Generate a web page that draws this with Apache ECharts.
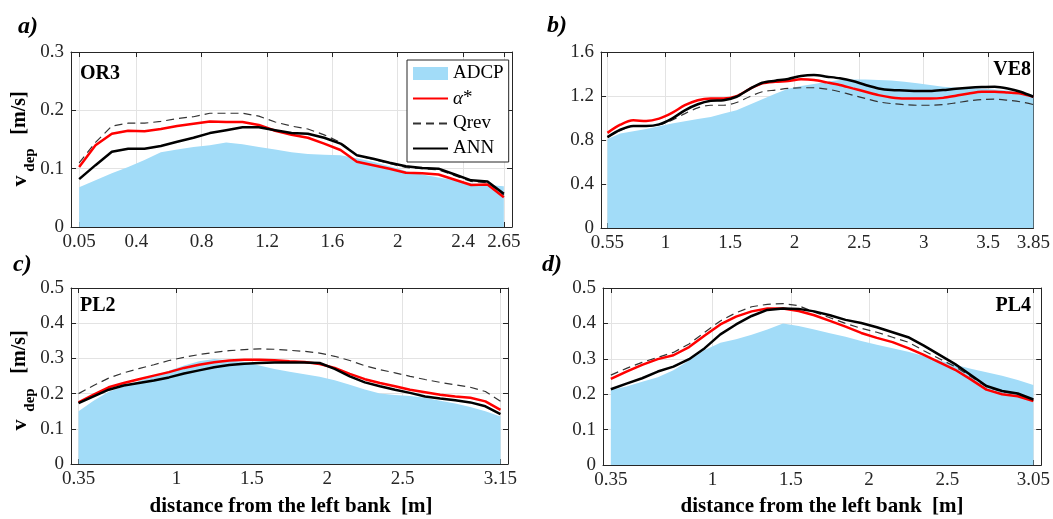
<!DOCTYPE html>
<html lang="en">
<head>
<meta charset="UTF-8">
<title>v_dep profiles</title>
<style>
  *{margin:0;padding:0;}
  body{background:#fff;}
  #view{width:1053px;height:519px;}
</style>
</head>
<body>
<div id="view"></div>
<script src="https://cdn.jsdelivr.net/npm/echarts@6/dist/echarts.min.js"></script>
<script>
// a) OR3
const xOR3 = [0.05,0.15,0.25,0.35,0.45,0.55,0.65,0.75,0.85,0.95,1.05,1.15,1.25,1.35,1.45,1.55,1.65,1.75,1.85,1.95,2.05,2.15,2.25,2.35,2.45,2.55,2.65];
const adcpOR3 = [0.068,0.080,0.092,0.103,0.115,0.128,0.133,0.137,0.140,0.145,0.142,0.137,0.133,0.128,0.125,0.124,0.123,0.118,0.112,0.104,0.096,0.090,0.085,0.080,0.075,0.072,0.070];
const alphaOR3 = [0.103,0.140,0.160,0.165,0.164,0.168,0.173,0.177,0.181,0.180,0.180,0.175,0.165,0.158,0.153,0.143,0.132,0.112,0.106,0.100,0.093,0.092,0.090,0.081,0.072,0.073,0.051];
const qrevOR3 = [0.110,0.145,0.173,0.178,0.178,0.181,0.186,0.189,0.195,0.195,0.195,0.190,0.180,0.173,0.168,0.158,0.145,0.123,0.116,0.109,0.102,0.100,0.098,0.088,0.078,0.076,0.055];
const annOR3 = [0.082,0.106,0.129,0.134,0.134,0.139,0.146,0.153,0.161,0.166,0.171,0.171,0.166,0.161,0.160,0.153,0.143,0.123,0.117,0.110,0.104,0.101,0.100,0.090,0.080,0.078,0.057];

// b) VE8
const xVE8 = [0.55,0.65,0.75,0.85,0.95,1.05,1.15,1.25,1.35,1.45,1.55,1.65,1.75,1.85,1.95,2.05,2.15,2.25,2.35,2.45,2.55,2.65,2.75,2.85,2.95,3.05,3.15,3.25,3.35,3.45,3.55,3.65,3.75,3.85];
const adcpVE8 = [0.81,0.86,0.88,0.90,0.925,0.95,0.97,0.99,1.01,1.04,1.07,1.12,1.17,1.22,1.265,1.29,1.31,1.33,1.345,1.35,1.35,1.345,1.34,1.33,1.315,1.30,1.285,1.275,1.27,1.265,1.26,1.25,1.235,1.21];
const alphaVE8 = [0.865,0.939,0.979,0.972,0.994,1.046,1.116,1.162,1.177,1.177,1.199,1.263,1.315,1.330,1.336,1.352,1.346,1.324,1.300,1.269,1.239,1.208,1.187,1.177,1.177,1.177,1.183,1.202,1.223,1.239,1.239,1.232,1.223,1.193];
const qrevVE8 = [0.826,0.887,0.927,0.927,0.939,0.979,1.040,1.092,1.116,1.116,1.141,1.193,1.239,1.254,1.269,1.275,1.275,1.263,1.239,1.208,1.177,1.147,1.131,1.122,1.116,1.116,1.122,1.138,1.156,1.168,1.171,1.162,1.147,1.122];
const annVE8 = [0.826,0.893,0.927,0.927,0.942,0.994,1.070,1.125,1.156,1.162,1.193,1.263,1.321,1.339,1.355,1.382,1.391,1.376,1.361,1.336,1.300,1.269,1.254,1.251,1.245,1.245,1.254,1.266,1.275,1.281,1.284,1.269,1.239,1.193];

// c) PL2
const xPL2 = [0.35,0.45,0.55,0.65,0.75,0.85,0.95,1.05,1.15,1.25,1.35,1.45,1.55,1.65,1.75,1.85,1.95,2.05,2.15,2.25,2.35,2.45,2.55,2.65,2.75,2.85,2.95,3.05,3.15];
const adcpPL2 = [0.150,0.180,0.205,0.220,0.235,0.250,0.265,0.280,0.292,0.298,0.295,0.290,0.280,0.270,0.262,0.255,0.248,0.238,0.225,0.212,0.200,0.196,0.193,0.188,0.180,0.172,0.162,0.150,0.135];
const alphaPL2 = [0.175,0.197,0.218,0.230,0.241,0.251,0.261,0.273,0.282,0.289,0.294,0.296,0.296,0.295,0.292,0.290,0.284,0.273,0.256,0.241,0.230,0.221,0.211,0.204,0.197,0.192,0.188,0.178,0.154];
const qrevPL2 = [0.200,0.223,0.244,0.259,0.271,0.282,0.294,0.303,0.311,0.317,0.322,0.325,0.327,0.326,0.323,0.320,0.315,0.306,0.294,0.279,0.268,0.259,0.249,0.240,0.232,0.225,0.218,0.206,0.178];
const annPL2 = [0.173,0.192,0.211,0.223,0.230,0.237,0.246,0.257,0.266,0.275,0.281,0.285,0.287,0.288,0.288,0.288,0.287,0.270,0.249,0.232,0.221,0.211,0.202,0.192,0.186,0.181,0.175,0.164,0.142];

// d) PL4
const xPL4 = [0.35,0.45,0.55,0.65,0.75,0.85,0.95,1.05,1.15,1.25,1.35,1.45,1.55,1.65,1.75,1.85,1.95,2.05,2.15,2.25,2.35,2.45,2.55,2.65,2.75,2.85,2.95,3.05];
const adcpPL4 = [0.212,0.222,0.235,0.248,0.268,0.295,0.325,0.345,0.355,0.368,0.383,0.400,0.393,0.383,0.372,0.362,0.350,0.340,0.330,0.320,0.308,0.295,0.283,0.272,0.262,0.252,0.240,0.226];
const alphaPL4 = [0.243,0.264,0.283,0.299,0.310,0.333,0.366,0.397,0.419,0.434,0.442,0.442,0.435,0.423,0.407,0.391,0.373,0.359,0.347,0.330,0.311,0.290,0.269,0.242,0.213,0.200,0.194,0.181];
const qrevPL4 = [0.254,0.273,0.290,0.304,0.318,0.342,0.375,0.407,0.430,0.447,0.454,0.456,0.450,0.432,0.416,0.400,0.386,0.375,0.361,0.347,0.323,0.300,0.278,0.250,0.221,0.207,0.200,0.183];
const annPL4 = [0.214,0.230,0.245,0.264,0.278,0.299,0.330,0.369,0.397,0.421,0.438,0.442,0.441,0.434,0.423,0.410,0.401,0.389,0.375,0.361,0.337,0.311,0.285,0.254,0.223,0.209,0.202,0.185];

// tick labels
const ticksOR3 = [0.05,0.4,0.8,1.2,1.6,2,2.4,2.65];
const ticksVE8 = [0.55,1,1.5,2,2.5,3,3.5,3.85];
const ticksPL2 = [0.35,1,1.5,2,2.5,3.15];
const ticksPL4 = [0.35,1,1.5,2,2.5,3.05];

const FONT = 'Liberation Serif';
const INK = '#262626';
const BLUE = '#a2dcf8';

const panels = [
  {name:'OR3', x:xOR3, adcp:adcpOR3, alpha:alphaOR3, qrev:qrevOR3, ann:annOR3, ticks:ticksOR3,
   xmin:0, xmax:2.7, ymax:0.3, ystep:0.1, grid:{left:71, top:52, width:441, height:175}, smooth:false},
  {name:'VE8', x:xVE8, adcp:adcpVE8, alpha:alphaVE8, qrev:qrevVE8, ann:annVE8, ticks:ticksVE8,
   xmin:0.5, xmax:3.85, ymax:1.6, ystep:0.4, grid:{left:601, top:52, width:435, height:176}, smooth:0.3},
  {name:'PL2', x:xPL2, adcp:adcpPL2, alpha:alphaPL2, qrev:qrevPL2, ann:annPL2, ticks:ticksPL2,
   xmin:0.3, xmax:3.2, ymax:0.5, ystep:0.1, grid:{left:71, top:288, width:437, height:176}, smooth:false},
  {name:'PL4', x:xPL4, adcp:adcpPL4, alpha:alphaPL4, qrev:qrevPL4, ann:annPL4, ticks:ticksPL4,
   xmin:0.3, xmax:3.1, ymax:0.5, ystep:0.1, grid:{left:603, top:288, width:439, height:177}, smooth:false}
];

function pairs(xs, ys) {
  return xs.map(function (x, k) { return [x, ys[k]]; });
}

const grids = [], xAxes = [], yAxes = [], series = [];
panels.forEach(function (p, i) {
  grids.push(p.grid);
  const line = {show:true, onZero:false, lineStyle:{color:INK, width:1}};
  const tick = {show:true, inside:true, length:5, lineStyle:{color:INK}};
  const label = {fontFamily:FONT, fontSize:19, color:INK};
  const split = {show:true, lineStyle:{color:'#e3e3e3', width:1}};
  xAxes.push({gridIndex:i, type:'value', position:'bottom', min:p.xmin, max:p.xmax,
    axisLine:line, axisTick:Object.assign({customValues:p.ticks}, tick),
    axisLabel:Object.assign({customValues:p.ticks, margin:6}, label), splitLine:split});
  xAxes.push({gridIndex:i, type:'value', position:'top', min:p.xmin, max:p.xmax,
    axisLine:line, axisTick:Object.assign({customValues:p.ticks}, tick),
    axisLabel:{show:false}, splitLine:{show:false}});
  yAxes.push({gridIndex:i, type:'value', position:'left', min:0, max:p.ymax, interval:p.ystep,
    axisLine:line, axisTick:tick, axisLabel:Object.assign({margin:7}, label), splitLine:split});
  yAxes.push({gridIndex:i, type:'value', position:'right', min:0, max:p.ymax, interval:p.ystep,
    axisLine:line, axisTick:tick, axisLabel:{show:false}, splitLine:{show:false}});
  const ax = {xAxisIndex:2*i, yAxisIndex:2*i, type:'line', symbol:'none', smooth:p.smooth, silent:true};
  series.push(Object.assign({}, ax, {name:'ADCP', data:pairs(p.x, p.adcp), smooth:false,
    itemStyle:{color:BLUE}, lineStyle:{width:0, color:BLUE}, areaStyle:{color:BLUE, opacity:1}}));
  series.push(Object.assign({}, ax, {name:'Qrev', data:pairs(p.x, p.qrev),
    itemStyle:{color:'#333'}, lineStyle:{width:1.2, color:'#333', type:[8,5]}}));
  series.push(Object.assign({}, ax, {name:'α*', data:pairs(p.x, p.alpha),
    itemStyle:{color:'#ff0000'}, lineStyle:{width:2.5, color:'#ff0000'}}));
  series.push(Object.assign({}, ax, {name:'ANN', data:pairs(p.x, p.ann),
    itemStyle:{color:'#000'}, lineStyle:{width:2.5, color:'#000'}}));
});

function txt(s, x, y, font, align, vAlign, rot) {
  return {type:'text', x:x, y:y, rotation:rot || 0, silent:true,
    style:{text:s, font:font, fill:'#000', textAlign:align, textVerticalAlign:vAlign}};
}
const panelFont = 'italic bold 24px "' + FONT + '"';
const nameFont = 'bold 20px "' + FONT + '"';
const titleFont = 'bold 21px "' + FONT + '"';
const R = Math.PI / 2;

const graphics = [
  txt('a)', 18, 15, panelFont, 'left', 'top'),
  txt('b)', 547, 14, panelFont, 'left', 'top'),
  txt('c)', 13, 253, panelFont, 'left', 'top'),
  txt('d)', 542, 253, panelFont, 'left', 'top'),
  txt('OR3', 80, 74, nameFont, 'left', 'middle'),
  txt('VE8', 1031, 70, nameFont, 'right', 'middle'),
  txt('PL2', 80, 306, nameFont, 'left', 'middle'),
  txt('PL4', 1031, 306, nameFont, 'right', 'middle'),
  // y titles
  txt('v', 20, 181, 'bold 22px "' + FONT + '"', 'center', 'middle', R),
  txt('dep', 30, 160, 'bold 15px "' + FONT + '"', 'center', 'middle', R),
  txt('[m/s]', 20, 113, 'bold 20px "' + FONT + '"', 'center', 'middle', R),
  txt('v', 20, 425, 'bold 22px "' + FONT + '"', 'center', 'middle', R),
  txt('dep', 30, 400, 'bold 15px "' + FONT + '"', 'center', 'middle', R),
  txt('[m/s]', 20, 352, 'bold 20px "' + FONT + '"', 'center', 'middle', R),
  // x titles
  txt('distance from the left bank  [m]', 291, 507, titleFont, 'center', 'middle'),
  txt('distance from the left bank  [m]', 822, 507, titleFont, 'center', 'middle')
];

const option = {
  animation:false,
  backgroundColor:'#fff',
  grid:grids,
  xAxis:xAxes,
  yAxis:yAxes,
  legend:{
    data:[{name:'ADCP', icon:'rect', itemStyle:{color:BLUE, opacity:1}}, 'α*', 'Qrev', 'ANN'],
    orient:'vertical', left:407, top:60,
    itemWidth:35, itemHeight:13, itemGap:6, padding:[4,5,4,5],
    borderColor:INK, borderWidth:1, backgroundColor:'#fff',
    selectedMode:false,
    itemStyle:{opacity:0},
    formatter:function (n) { return n === 'α*' ? '{i|α}*' : n; },
    textStyle:{fontFamily:FONT, fontSize:19, color:'#000',
      rich:{i:{fontFamily:FONT, fontSize:19, fontStyle:'italic', color:'#000'}}}
  },
  graphic:graphics,
  series:series
};

const myChart = echarts.init(document.getElementById('view'));
myChart.setOption(option);
</script>
</body>
</html>
